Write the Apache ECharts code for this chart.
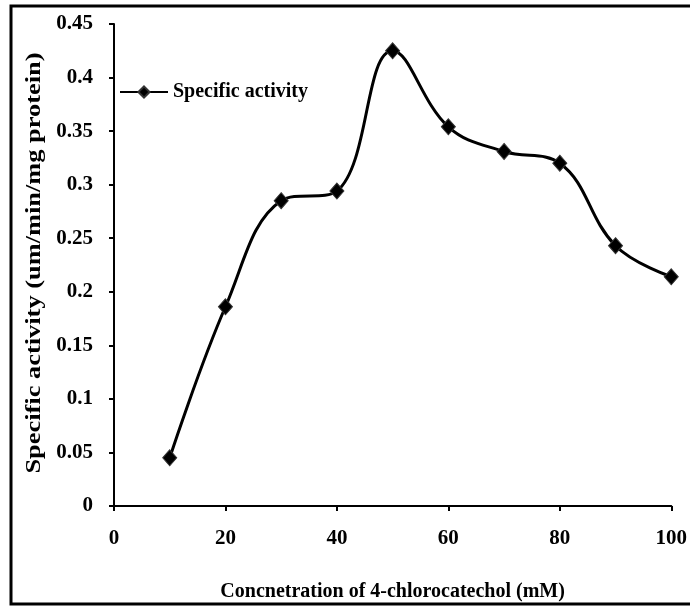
<!DOCTYPE html>
<html>
<head>
<meta charset="utf-8">
<script src="https://cdn.jsdelivr.net/npm/echarts@6/dist/echarts.min.js"></script>
<style>
  html, body { margin: 0; padding: 0; background: #fff; }
  #chart { width: 690px; height: 607px; }
</style>
</head>
<body>
<div id="chart"></div>
<script>
// concentration (mM) vs specific activity
const concentrations = [10, 20, 30, 40, 50, 60, 70, 80, 90, 100];
const activity = [0.045, 0.186, 0.285, 0.294, 0.425, 0.354, 0.331, 0.320, 0.243, 0.214];
const seriesName = 'Specific activity';
const xTitle = 'Concnetration of 4-chlorocatechol (mM)';
const yTitle = 'Specific activity (um/min/mg protein)';

const font = '"Liberation Serif", "Times New Roman", serif';

const myChart = echarts.init(document.getElementById('chart'));
const option = {
	backgroundColor: '#fff',
	textStyle: {
		fontFamily: font,
		fontWeight: 'bold',
		color: '#000'
	},
	graphic: [{
		type: 'rect',
		shape: { x: 11, y: 6, width: 700, height: 598 },
		style: { fill: 'none', stroke: '#000', lineWidth: 3 },
		silent: true
	}, {
		// y title, stretched a little along its length like the original
		type: 'text',
		x: 34,
		y: 263,
		rotation: Math.PI / 2,
		scaleX: 1.2,
		style: {
			text: yTitle,
			font: 'bold 22px ' + font,
			fill: '#000',
			align: 'center',
			verticalAlign: 'middle'
		},
		silent: true
	}],
	legend: {
		left: 114,
		top: 77,
		itemWidth: 48,
		itemHeight: 14,
		itemGap: 4,
		textStyle: { fontFamily: font, fontWeight: 'bold', fontSize: 20, color: '#000' },
		data: [seriesName]
	},
	grid: {
		left: 114,
		right: 17,
		top: 24,
		bottom: 101
	},
	xAxis: {
		type: 'value',
		min: 0,
		max: 100,
		interval: 20,
		name: xTitle,
		nameLocation: 'middle',
		nameGap: 76,
		nameTextStyle: { fontFamily: font, fontWeight: 'bold', fontSize: 20, color: '#000' },
		axisLine: { lineStyle: { color: '#000', width: 2 } },
		axisTick: { inside: false, length: 5, lineStyle: { color: '#000', width: 2 } },
		axisLabel: { margin: 22, fontFamily: font, fontWeight: 'bold', fontSize: 21, color: '#000' },
		splitLine: { show: false }
	},
	yAxis: {
		type: 'value',
		min: 0,
		max: 0.45,
		interval: 0.05,
		axisLine: { show: true, lineStyle: { color: '#000', width: 2 } },
		axisTick: { show: true, inside: false, length: 5, lineStyle: { color: '#000', width: 2 } },
		axisLabel: { margin: 21, fontFamily: font, fontWeight: 'bold', fontSize: 21, color: '#000' },
		splitLine: { show: false }
	},
	series: [{
		name: seriesName,
		type: 'line',
		smooth: 0.4,
		data: concentrations.map((c, i) => [c, activity[i]]),
		symbol: 'diamond',
		symbolSize: [14, 16],
		showAllSymbol: true,
		itemStyle: { color: '#000', borderColor: '#333', borderWidth: 1 },
		lineStyle: { color: '#000', width: 3 },
		animation: false
	}]
};
myChart.setOption(option);
</script>
</body>
</html>
